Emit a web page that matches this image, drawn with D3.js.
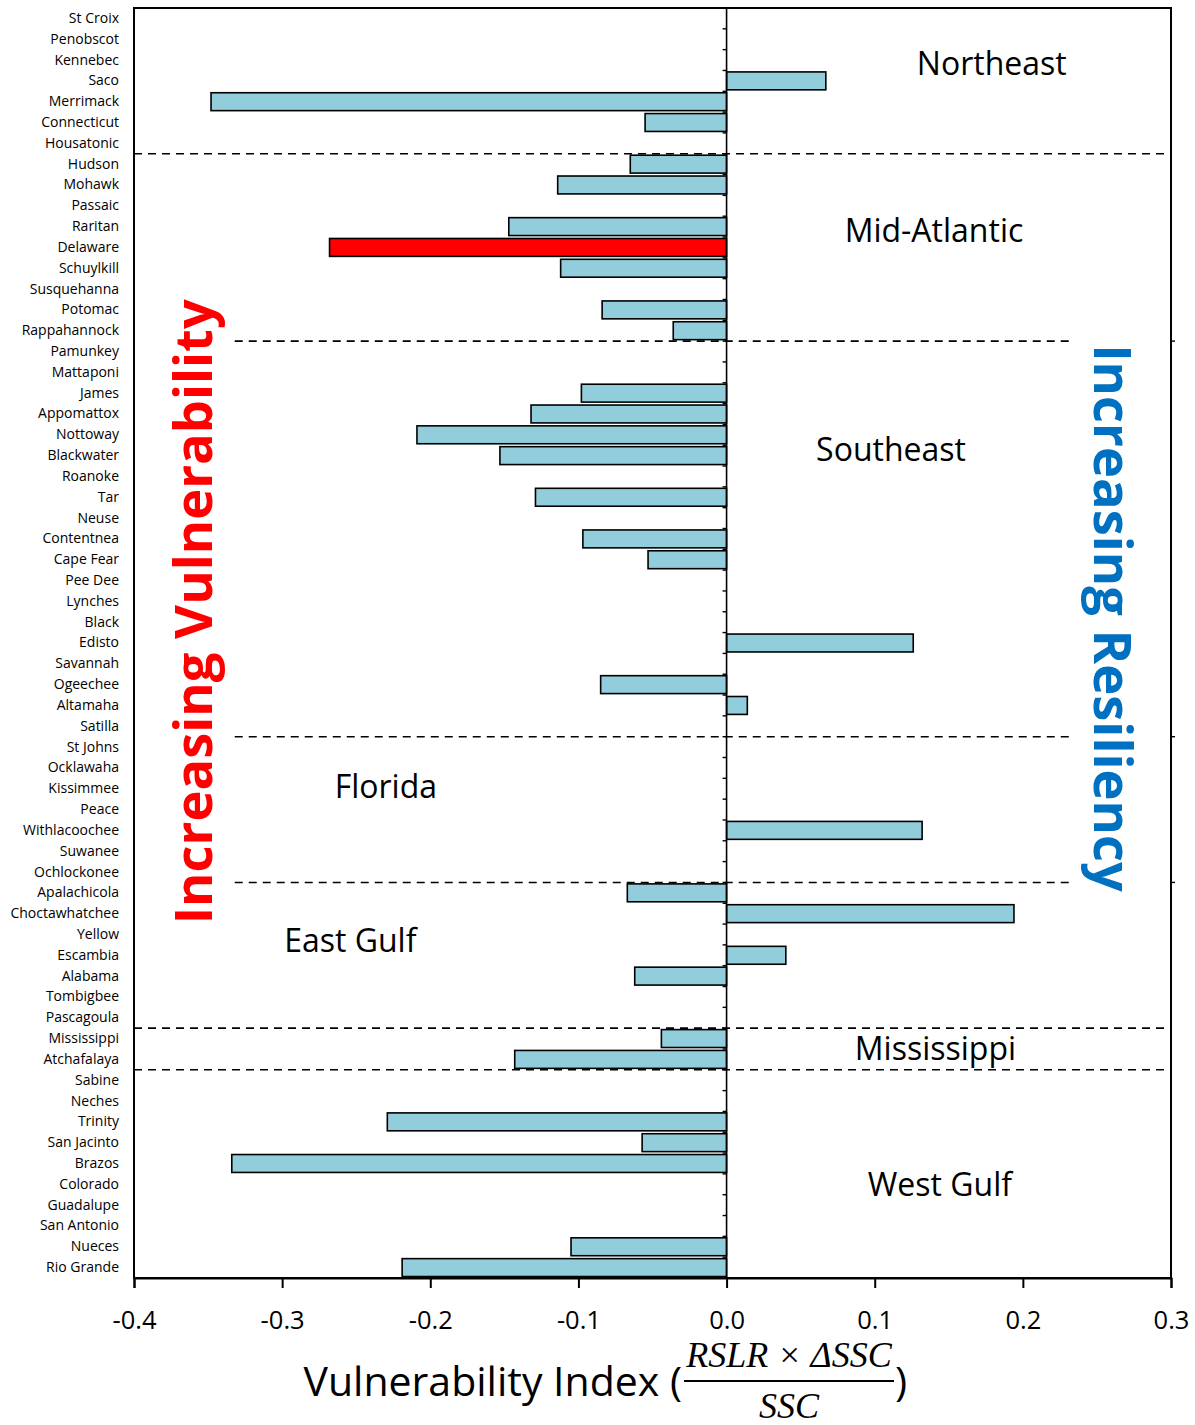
<!DOCTYPE html>
<html>
<head>
<meta charset="utf-8">
<script src="https://cdn.jsdelivr.net/npm/d3@7"></script>
<style>
  html, body { margin: 0; padding: 0; background: #fff; }
  svg { display: block; }
</style>
</head>
<body>
<svg id="chart" width="1195" height="1425"></svg>
<script>
// River basins, north to south along the Atlantic and Gulf coasts
const rivers = [
  "St Croix", "Penobscot", "Kennebec", "Saco", "Merrimack", "Connecticut", "Housatonic",
  "Hudson", "Mohawk", "Passaic", "Raritan", "Delaware", "Schuylkill", "Susquehanna", "Potomac", "Rappahannock",
  "Pamunkey", "Mattaponi", "James", "Appomattox", "Nottoway", "Blackwater", "Roanoke", "Tar", "Neuse",
  "Contentnea", "Cape Fear", "Pee Dee", "Lynches", "Black", "Edisto", "Savannah", "Ogeechee", "Altamaha", "Satilla",
  "St Johns", "Ocklawaha", "Kissimmee", "Peace", "Withlacoochee", "Suwanee", "Ochlockonee",
  "Apalachicola", "Choctawhatchee", "Yellow", "Escambia", "Alabama", "Tombigbee", "Pascagoula",
  "Mississippi", "Atchafalaya",
  "Sabine", "Neches", "Trinity", "San Jacinto", "Brazos", "Colorado", "Guadalupe", "San Antonio", "Nueces", "Rio Grande"
];

// Vulnerability index per river (null = no bar)
const vulnerability = [
  null, null, null, 0.067, -0.348, -0.055, null,
  -0.065, -0.114, null, -0.147, -0.268, -0.112, null, -0.084, -0.036,
  null, null, -0.098, -0.132, -0.209, -0.153, null, -0.129, null,
  -0.097, -0.053, null, null, null, 0.126, null, -0.085, 0.014, null,
  null, null, null, null, 0.132, null, null,
  -0.067, 0.194, null, 0.040, -0.062, null, null,
  -0.044, -0.143,
  null, null, -0.229, -0.057, -0.334, null, null, null, -0.105, -0.219
];

const highlighted = ["Delaware"];

const xTicks = [-0.4, -0.3, -0.2, -0.1, 0.0, 0.1, 0.2, 0.3];

// Regions: name, number of rivers before the boundary below it, label anchor (index value, row)
const regionNames = ["Northeast", "Mid-Atlantic", "Southeast", "Florida", "East Gulf", "Mississippi", "West Gulf"];
const regionEnds = [7, 16, 35, 42, 49, 51, 61];
const regionLabelX = [0.179, 0.140, 0.111, -0.230, -0.254, 0.141, 0.144];
const regionLabelRow = [2.6, 10.65, 21.15, 37.35, 44.75, 49.95, 56.45];
// Boundary lines that stop short of the side captions
const boundaryShort = [false, true, true, true, false, false];
const shortExtent = [-0.332, 0.231];

const svg = d3.select("#chart");
const margin = { left: 134, right: 24, top: 8, bottom: 147 };
const W = 1195, H = 1425;
const plotL = margin.left, plotR = W - margin.right, plotT = margin.top, plotB = H - margin.bottom;

const x = d3.scaleLinear().domain([-0.4, 0.3]).range([plotL, plotR]);
const y = d3.scaleBand().domain(rivers).range([plotT, plotB]).paddingInner(0.14).paddingOuter(0.07);
const step = y.step();
const rowY = r => plotT + r * step;

const labelFont = "'Open Sans', 'Noto Sans', sans-serif";

// Bars
const rows = rivers.map((r, i) => ({ river: r, value: vulnerability[i] })).filter(d => d.value !== null);
svg.append("g").selectAll("rect").data(rows).join("rect")
  .attr("x", d => x(Math.min(0, d.value)))
  .attr("y", d => y(d.river))
  .attr("width", d => Math.abs(x(d.value) - x(0)))
  .attr("height", y.bandwidth())
  .attr("fill", d => highlighted.includes(d.river) ? "#ff0000" : "#92cddc")
  .attr("stroke", "#000")
  .attr("stroke-width", 1.6);

// Zero line with category tick marks
svg.append("line")
  .attr("x1", x(0)).attr("x2", x(0))
  .attr("y1", plotT).attr("y2", plotB)
  .attr("stroke", "#000").attr("stroke-width", 1.6);
svg.append("g").selectAll("line").data(d3.range(1, rivers.length)).join("line")
  .attr("x1", x(0) - 4).attr("x2", x(0))
  .attr("y1", i => rowY(i)).attr("y2", i => rowY(i))
  .attr("stroke", "#000").attr("stroke-width", 1.4);

// Region boundaries
const bounds = regionEnds.slice(0, -1).map((e, i) => ({ row: e, short: boundaryShort[i] }));
svg.append("g").selectAll("line").data(bounds).join("line")
  .attr("x1", d => d.short ? x(shortExtent[0]) : plotL)
  .attr("x2", d => d.short ? x(shortExtent[1]) : plotR)
  .attr("y1", d => rowY(d.row)).attr("y2", d => rowY(d.row))
  .attr("stroke", "#000").attr("stroke-width", 1.6)
  .attr("stroke-dasharray", "8,6");
// small stubs on the right frame at the shortened boundaries
svg.append("g").selectAll("line").data(bounds.filter(d => d.short)).join("line")
  .attr("x1", plotR).attr("x2", plotR + 4)
  .attr("y1", d => rowY(d.row)).attr("y2", d => rowY(d.row))
  .attr("stroke", "#000").attr("stroke-width", 1.4);

// Frame
svg.append("rect")
  .attr("x", plotL).attr("y", plotT)
  .attr("width", plotR - plotL).attr("height", plotB - plotT)
  .attr("fill", "none").attr("stroke", "#000").attr("stroke-width", 2);

// River labels
const yAxis = svg.append("g").attr("transform", `translate(${plotL},0)`)
  .call(d3.axisLeft(y).tickSize(0).tickPadding(15));
yAxis.select(".domain").remove();
yAxis.selectAll("text")
  .attr("font-family", labelFont).attr("font-size", 14).attr("fill", "#000");

// Value axis (plain hyphen for negatives)
const tickFmt = v => (v < 0 ? "-" : "") + Math.abs(v).toFixed(1);
const xAxis = svg.append("g").attr("transform", `translate(0,${plotB})`)
  .call(d3.axisBottom(x).tickValues(xTicks).tickFormat(tickFmt).tickSize(10).tickPadding(23));
xAxis.select(".domain").attr("stroke-width", 2);
xAxis.selectAll(".tick line").attr("stroke-width", 2);
xAxis.selectAll("text")
  .attr("font-family", labelFont).attr("font-size", 25.5).attr("fill", "#000");

// Region labels
svg.append("g").selectAll("text").data(regionNames).join("text")
  .attr("x", (d, i) => x(regionLabelX[i]))
  .attr("y", (d, i) => rowY(regionLabelRow[i]))
  .attr("text-anchor", "middle").attr("dominant-baseline", "central")
  .attr("font-family", labelFont).attr("font-size", 32).attr("fill", "#000")
  .text(d => d);

// Side captions
svg.append("text")
  .attr("transform", `translate(191,${rowY(29)}) rotate(-90)`)
  .attr("text-anchor", "middle").attr("dominant-baseline", "central")
  .attr("font-family", labelFont).attr("font-weight", "bold").attr("font-size", 52.5)
  .attr("fill", "#ff0000")
  .text("Increasing Vulnerability");
svg.append("text")
  .attr("transform", `translate(1114,${rowY(29.3)}) rotate(90)`)
  .attr("text-anchor", "middle").attr("dominant-baseline", "central")
  .attr("font-family", labelFont).attr("font-weight", "bold").attr("font-size", 52.5)
  .attr("fill", "#0070c0")
  .text("Increasing Resiliency");

// Axis title with fraction
const title = svg.append("g");
title.append("text")
  .attr("x", 682).attr("y", 1396)
  .attr("text-anchor", "end")
  .attr("font-family", labelFont).attr("font-size", 41).attr("fill", "#000")
  .text("Vulnerability Index (");
const fracX = 789;
const mathFont = "'Liberation Serif', 'DejaVu Serif', serif";
title.append("text")
  .attr("x", fracX).attr("y", 1367)
  .attr("text-anchor", "middle")
  .attr("font-family", mathFont).attr("font-style", "italic")
  .attr("font-size", 36).attr("fill", "#000")
  .text("RSLR × ΔSSC");
title.append("line")
  .attr("x1", 684).attr("x2", 894).attr("y1", 1381).attr("y2", 1381)
  .attr("stroke", "#000").attr("stroke-width", 2);
title.append("text")
  .attr("x", fracX).attr("y", 1418)
  .attr("text-anchor", "middle")
  .attr("font-family", mathFont).attr("font-style", "italic")
  .attr("font-size", 36).attr("fill", "#000")
  .text("SSC");
title.append("text")
  .attr("x", 895).attr("y", 1396)
  .attr("font-family", labelFont).attr("font-size", 41).attr("fill", "#000")
  .text(")");
</script>
</body>
</html>
